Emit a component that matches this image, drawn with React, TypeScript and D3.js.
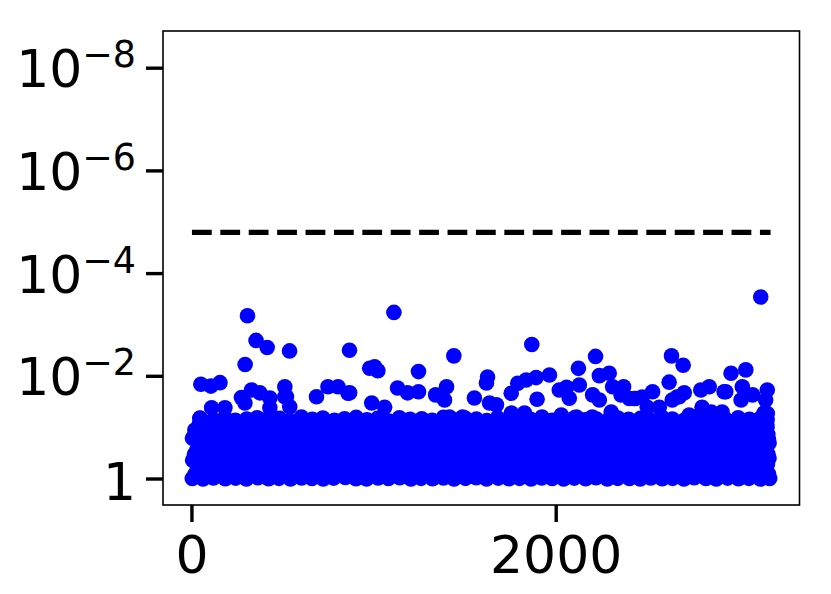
import * as d3 from 'd3';

// number of tests and the Bonferroni line drawn across them
const nTests = 3178;
const threshold = 0.05 / nTests;

// tick values
const xTicks = [0, 2000];
const yTicks = [1, 1e-2, 1e-4, 1e-6, 1e-8];
const yTickExp = ['', '−2', '−4', '−6', '−8'];

// [test index, p-value], bottom to top
const band1 = [[2,0.98],[61,1.0],[118,0.95],[183,0.99],[240,0.96],[299,1.0],[362,0.94],[421,0.99],[478,0.97],[541,1.0],[602,0.95],[659,0.98],[721,1.0],[778,0.96],[842,0.93],[901,0.99],[959,1.0],[1022,0.95],[1079,0.98],[1141,0.94],[1202,1.0],[1258,0.97],[1321,0.99],[1381,0.95],[1439,1.0],[1502,0.97],[1561,0.94],[1618,1.0],[1682,0.96],[1741,0.99],[1799,0.97],[1862,1.0],[1921,0.95],[1978,0.98],[2041,1.0],[2099,0.96],[2162,0.99],[2219,0.94],[2281,1.0],[2338,0.97],[2402,0.98],[2461,1.0],[2519,0.95],[2582,0.99],[2639,0.97],[2701,1.0],[2758,0.94],[2822,0.98],[2879,1.0],[2941,0.96],[3001,0.99],[3058,0.97],[3121,1.0],[3172,0.98]];
const band1b = [[17,0.8],[76,0.79],[133,0.81],[198,0.8],[255,0.82],[314,0.79],[377,0.8],[436,0.81],[493,0.78],[556,0.8],[617,0.82],[674,0.79],[736,0.8],[793,0.81],[857,0.79],[916,0.8],[974,0.82],[1037,0.78],[1094,0.8],[1156,0.81],[1217,0.79],[1273,0.8],[1336,0.82],[1396,0.79],[1454,0.8],[1517,0.81],[1576,0.78],[1633,0.8],[1697,0.82],[1756,0.79],[1814,0.8],[1877,0.81],[1936,0.79],[1993,0.8],[2056,0.82],[2114,0.78],[2177,0.8],[2234,0.81],[2296,0.79],[2353,0.8],[2417,0.82],[2476,0.79],[2534,0.8],[2597,0.81],[2654,0.78],[2716,0.8],[2773,0.82],[2837,0.79],[2894,0.8],[2956,0.81],[3016,0.79],[3073,0.8],[3136,0.82],[3166,0.8]];
const band2 = [[31,0.66],[89,0.61],[152,0.69],[209,0.63],[271,0.59],[330,0.67],[391,0.62],[448,0.7],[512,0.64],[569,0.6],[631,0.68],[690,0.63],[748,0.66],[811,0.59],[869,0.65],[932,0.7],[988,0.62],[1051,0.67],[1109,0.6],[1172,0.64],[1229,0.69],[1292,0.61],[1349,0.66],[1411,0.63],[1468,0.7],[1532,0.6],[1589,0.65],[1652,0.62],[1709,0.68],[1771,0.59],[1828,0.64],[1891,0.69],[1949,0.61],[2011,0.66],[2069,0.63],[2132,0.58],[2188,0.67],[2251,0.62],[2311,0.7],[2369,0.64],[2432,0.6],[2489,0.66],[2551,0.63],[2609,0.68],[2672,0.59],[2729,0.65],[2791,0.62],[2848,0.69],[2912,0.61],[2969,0.66],[3031,0.63],[3089,0.67],[3151,0.6]];
const band2b = [[46,0.51],[104,0.5],[167,0.52],[226,0.51],[286,0.49],[345,0.52],[404,0.5],[466,0.51],[524,0.53],[587,0.5],[645,0.51],[707,0.49],[764,0.52],[826,0.51],[886,0.5],[944,0.53],[1006,0.51],[1066,0.49],[1124,0.52],[1187,0.5],[1244,0.51],[1306,0.53],[1366,0.5],[1424,0.51],[1487,0.49],[1546,0.52],[1604,0.51],[1667,0.5],[1724,0.53],[1786,0.51],[1846,0.49],[1904,0.52],[1966,0.5],[2024,0.51],[2086,0.53],[2146,0.5],[2204,0.51],[2266,0.49],[2324,0.52],[2386,0.51],[2446,0.5],[2504,0.53],[2566,0.51],[2624,0.49],[2686,0.52],[2744,0.5],[2806,0.51],[2866,0.53],[2924,0.5],[2986,0.51],[3044,0.49],[3106,0.52],[3160,0.51]];
const band3 = [[4,0.43],[58,0.39],[122,0.41],[181,0.45],[238,0.38],[302,0.42],[359,0.4],[419,0.44],[481,0.37],[538,0.41],[599,0.43],[662,0.39],[718,0.45],[781,0.4],[839,0.42],[898,0.38],[962,0.44],[1018,0.41],[1082,0.37],[1138,0.43],[1199,0.4],[1261,0.45],[1318,0.39],[1379,0.42],[1442,0.38],[1499,0.44],[1558,0.41],[1621,0.37],[1679,0.43],[1738,0.4],[1802,0.45],[1859,0.39],[1918,0.42],[1981,0.38],[2038,0.44],[2102,0.41],[2158,0.39],[2222,0.43],[2278,0.37],[2341,0.42],[2399,0.45],[2458,0.4],[2522,0.38],[2579,0.44],[2641,0.41],[2698,0.39],[2761,0.43],[2819,0.37],[2882,0.42],[2938,0.4],[2998,0.45],[3062,0.39],[3118,0.42],[3168,0.4]];
const band3b = [[14,0.33],[73,0.32],[136,0.34],[195,0.33],[258,0.32],[317,0.34],[374,0.33],[433,0.32],[496,0.33],[553,0.34],[614,0.32],[677,0.33],[733,0.34],[796,0.33],[854,0.32],[913,0.33],[977,0.34],[1034,0.32],[1097,0.33],[1153,0.34],[1214,0.33],[1276,0.32],[1333,0.33],[1393,0.34],[1457,0.32],[1514,0.33],[1573,0.34],[1636,0.33],[1694,0.32],[1753,0.33],[1817,0.34],[1874,0.32],[1933,0.33],[1996,0.34],[2053,0.33],[2117,0.32],[2174,0.33],[2237,0.34],[2293,0.32],[2356,0.33],[2414,0.34],[2473,0.33],[2537,0.32],[2594,0.33],[2657,0.34],[2713,0.32],[2776,0.33],[2834,0.34],[2897,0.33],[2953,0.32],[3013,0.33],[3076,0.34],[3133,0.32],[3163,0.33]];
const band4 = [[28,0.27],[92,0.25],[149,0.28],[211,0.24],[268,0.26],[332,0.285],[388,0.25],[451,0.27],[509,0.24],[572,0.26],[628,0.28],[692,0.25],[751,0.27],[808,0.235],[871,0.26],[929,0.28],[991,0.25],[1048,0.27],[1112,0.24],[1169,0.26],[1231,0.28],[1289,0.25],[1352,0.27],[1408,0.24],[1471,0.26],[1529,0.285],[1591,0.25],[1649,0.27],[1712,0.24],[1768,0.26],[1831,0.28],[1889,0.25],[1951,0.27],[2008,0.24],[2071,0.26],[2129,0.28],[2191,0.25],[2249,0.27],[2312,0.235],[2371,0.26],[2429,0.28],[2491,0.25],[2548,0.27],[2611,0.24],[2669,0.26],[2731,0.28],[2789,0.25],[2851,0.27],[2909,0.24],[2972,0.26],[3029,0.28],[3091,0.25],[3149,0.27]];
const band4b = [[43,0.21],[107,0.2],[164,0.22],[229,0.21],[283,0.2],[348,0.21],[401,0.22],[469,0.21],[521,0.2],[584,0.21],[648,0.22],[704,0.2],[767,0.21],[823,0.22],[889,0.21],[941,0.2],[1009,0.21],[1063,0.22],[1127,0.2],[1184,0.21],[1247,0.22],[1303,0.21],[1369,0.2],[1421,0.21],[1484,0.22],[1549,0.2],[1601,0.21],[1664,0.22],[1727,0.21],[1783,0.2],[1849,0.21],[1901,0.22],[1963,0.2],[2027,0.21],[2083,0.22],[2149,0.21],[2201,0.2],[2263,0.21],[2327,0.22],[2383,0.2],[2449,0.21],[2501,0.22],[2563,0.21],[2627,0.2],[2683,0.21],[2747,0.22],[2803,0.2],[2863,0.21],[2927,0.22],[2983,0.21],[3047,0.2],[3103,0.21],[3158,0.22]];
const band5 = [[3,0.16],[62,0.17],[119,0.155],[182,0.175],[241,0.16],[298,0.17],[361,0.15],[422,0.165],[479,0.18],[539,0.16],[601,0.17],[658,0.155],[722,0.175],[779,0.16],[841,0.17],[902,0.15],[958,0.165],[1021,0.18],[1081,0.16],[1139,0.17],[1201,0.155],[1259,0.175],[1322,0.16],[1378,0.17],[1441,0.15],[1501,0.165],[1559,0.18],[1622,0.16],[1681,0.17],[1739,0.155],[1801,0.175],[1861,0.16],[1919,0.17],[1979,0.15],[2042,0.165],[2098,0.18],[2161,0.16],[2221,0.17],[2279,0.155],[2342,0.175],[2401,0.16],[2459,0.17],[2521,0.15],[2578,0.165],[2642,0.18],[2699,0.16],[2762,0.17],[2818,0.155],[2881,0.175],[2939,0.16],[3002,0.17],[3059,0.15],[3122,0.165],[3165,0.17]];
const band5b = [[19,0.133],[78,0.13],[131,0.136],[199,0.132],[257,0.128],[312,0.135],[379,0.131],[438,0.134],[491,0.129],[558,0.133],[619,0.137],[672,0.13],[738,0.134],[791,0.132],[859,0.128],[918,0.135],[971,0.133],[1039,0.13],[1096,0.136],[1151,0.131],[1219,0.134],[1271,0.129],[1338,0.133],[1398,0.137],[1451,0.131],[1519,0.134],[1578,0.13],[1631,0.135],[1699,0.132],[1758,0.128],[1811,0.134],[1879,0.133],[1938,0.13],[1991,0.136],[2059,0.131],[2111,0.134],[2179,0.129],[2238,0.133],[2291,0.137],[2359,0.131],[2418,0.134],[2471,0.13],[2539,0.135],[2598,0.132],[2651,0.128],[2719,0.134],[2778,0.133],[2831,0.13],[2899,0.136],[2958,0.131],[3011,0.134],[3079,0.129],[3138,0.133],[3162,0.136]];
const band6 = [[29,0.11],[91,0.1],[151,0.115],[208,0.105],[272,0.098],[329,0.112],[392,0.102],[449,0.108],[511,0.097],[571,0.114],[629,0.104],[691,0.109],[749,0.099],[812,0.113],[868,0.103],[931,0.107],[989,0.096],[1052,0.111],[1111,0.101],[1171,0.116],[1228,0.105],[1291,0.099],[1351,0.11],[1409,0.102],[1472,0.108],[1531,0.097],[1588,0.113],[1651,0.104],[1711,0.109],[1769,0.1],[1832,0.115],[1888,0.103],[1952,0.107],[2009,0.098],[2072,0.112],[2131,0.101],[2189,0.11],[2252,0.105],[2309,0.097],[2372,0.114],[2431,0.103],[2488,0.108],[2552,0.099],[2612,0.111],[2668,0.102],[2732,0.116],[2788,0.106],[2852,0.1],[2911,0.112],[2968,0.104],[3032,0.108],[3088,0.098],[3152,0.11]];
const band6b = [[41,0.085],[104,0.083],[166,0.087],[224,0.084],[287,0.086],[344,0.082],[406,0.085],[466,0.088],[526,0.083],[584,0.086],[646,0.084],[706,0.087],[764,0.082],[826,0.085],[884,0.086],[946,0.083],[1004,0.088],[1066,0.084],[1126,0.085],[1184,0.082],[1246,0.087],[1304,0.084],[1366,0.086],[1426,0.083],[1484,0.085],[1546,0.088],[1604,0.084],[1666,0.086],[1724,0.082],[1786,0.085],[1846,0.087],[1904,0.083],[1966,0.086],[2024,0.084],[2086,0.088],[2146,0.082],[2204,0.085],[2266,0.087],[2326,0.083],[2384,0.086],[2446,0.084],[2504,0.085],[2566,0.088],[2624,0.082],[2686,0.086],[2744,0.084],[2806,0.087],[2866,0.083],[2924,0.085],[2986,0.086],[3044,0.082],[3104,0.085],[3155,0.087]];
const band7 = [[44,0.066],[118,0.07],[181,0.063],[239,0.072],[301,0.068],[358,0.064],[421,0.071],[482,0.066],[539,0.073],[601,0.062],[661,0.069],[719,0.065],[782,0.072],[838,0.067],[902,0.063],[961,0.07],[1019,0.066],[1081,0.074],[1139,0.064],[1198,0.069],[1262,0.067],[1319,0.072],[1381,0.063],[1441,0.07],[1499,0.065],[1562,0.068],[1619,0.073],[1678,0.064],[1741,0.071],[1799,0.066],[1859,0.069],[1922,0.062],[1978,0.072],[2039,0.067],[2101,0.064],[2158,0.07],[2221,0.068],[2281,0.073],[2339,0.065],[2398,0.069],[2462,0.066],[2519,0.071],[2581,0.063],[2638,0.068],[2702,0.072],[2761,0.065],[2818,0.07],[2879,0.067],[2941,0.073],[2999,0.064],[3061,0.069],[3119,0.066],[3158,0.07]];

// ragged top edge of the band
const edge = [[16,0.111],[44,0.065],[108,0.041],[181,0.041],[272,0.026],[291,0.033],[327,0.0185],[373,0.021],[389,0.071],[428,0.0265],[428,0.041],[510,0.016],[510,0.025],[519,0.025],[537,0.039],[684,0.025],[747,0.016],[802,0.016],[857,0.0214],[866,0.021],[987,0.033],[1058,0.04],[1129,0.0169],[1184,0.021],[1244,0.02],[1338,0.023],[1387,0.029],[1398,0.016],[1414,0.062],[1486,0.062],[1551,0.0265],[1617,0.0135],[1623,0.0103],[1634,0.033],[1672,0.036],[1753,0.0214],[1754,0.052],[1789,0.0137],[1826,0.052],[1835,0.0118],[1890,0.0106],[1895,0.028],[1963,0.0094],[2017,0.0185],[2028,0.057],[2057,0.0164],[2072,0.0268],[2111,0.062],[2127,0.0148],[2198,0.062],[2200,0.023],[2237,0.0097],[2237,0.029],[2291,0.0087],[2302,0.0496],[2310,0.016],[2356,0.023],[2370,0.016],[2401,0.027],[2428,0.027],[2438,0.027],[2472,0.0253],[2500,0.04],[2529,0.02],[2566,0.04],[2620,0.013],[2637,0.029],[2664,0.0253],[2675,0.025],[2703,0.021],[2730,0.057],[2757,0.062],[2794,0.0185],[2801,0.04],[2840,0.016],[2851,0.0496],[2911,0.0496],[2922,0.02],[2931,0.02],[3015,0.029],[3022,0.016],[3078,0.023],[3141,0.052],[3150,0.029],[3158,0.097],[3159,0.0185],[3159,0.053],[3169,0.199]];

// isolated points above the band
const peaks = [[49,0.0143],[104,0.0155],[154,0.0133],[292,0.0059],[305,0.00066],[352,0.002],[413,0.00275],[536,0.0032],[865,0.0031],[976,0.00698],[1003,0.0065],[1021,0.0078],[1109,0.00057],[1244,0.0081],[1438,0.004],[1866,0.0024],[2122,0.007],[2216,0.0041],[2633,0.004],[2697,0.0061],[2960,0.0087],[3041,0.0075],[3123,0.000286]];

const points = [
    ...band1, ...band1b, ...band2, ...band2b, ...band3, ...band3b, ...band4, ...band4b,
    ...band5, ...band5b, ...band6, ...band6b, ...band7, ...edge, ...peaks,
];

const width = 831;
const height = 594;
const plot = { left: 163, right: 799.5, top: 31, bottom: 505 };
const font = 'DejaVu Sans';

const App = () => {
    const pad = 0.05 * (nTests - 1);
    const x = d3.scaleLinear().domain([-pad, nTests - 1 + pad]).range([plot.left, plot.right]);
    const y = d3.scaleLog().domain([10 ** 0.506, 10 ** -8.724]).range([plot.bottom, plot.top]);

    return (
        <svg width={width} height={height} style={{ position: 'absolute', left: 0, top: 0, background: '#fff' }}>
            <g>
                {points.map((d, i) => (
                    <circle key={i} cx={x(d[0])} cy={y(d[1])} r={7.8} fill="#0000ff" />
                ))}
            </g>
            <line
                x1={x(0)}
                x2={x(nTests - 1)}
                y1={y(threshold)}
                y2={y(threshold)}
                stroke="#000"
                strokeWidth={5.3}
                strokeDasharray="19.8 8.6"
            />
            <rect
                x={plot.left}
                y={plot.top}
                width={plot.right - plot.left}
                height={plot.bottom - plot.top}
                fill="none"
                stroke="#000"
                strokeWidth={1.6}
            />
            {yTicks.map((t, i) => (
                <g key={t}>
                    <line x1={plot.left - 17} x2={plot.left} y1={y(t)} y2={y(t)} stroke="#000" strokeWidth={3.4} />
                    <text
                        x={136}
                        y={y(t) + (i === 0 ? 21 : 19)}
                        textAnchor="end"
                        fontFamily={font}
                        fontSize={52}
                        fill="#000"
                    >
                        {i === 0 ? '1' : '10'}
                        {i > 0 && (
                            <tspan dy={-20} fontSize={36.4}>
                                {yTickExp[i]}
                            </tspan>
                        )}
                    </text>
                </g>
            ))}
            {xTicks.map((t) => (
                <g key={t}>
                    <line x1={x(t)} x2={x(t)} y1={plot.bottom} y2={plot.bottom + 17} stroke="#000" strokeWidth={3.4} />
                    <text x={x(t)} y={573} textAnchor="middle" fontFamily={font} fontSize={52} fill="#000">
                        {t}
                    </text>
                </g>
            ))}
        </svg>
    );
};

export default App;
